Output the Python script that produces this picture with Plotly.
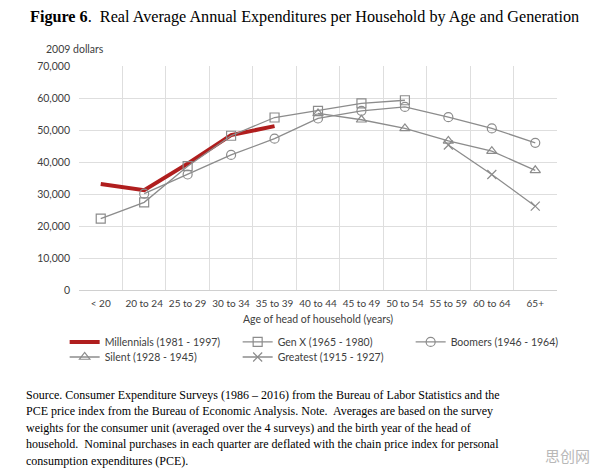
import plotly.graph_objects as go

ages = ["< 20", "20 to 24", "25 to 29", "30 to 34", "35 to 39", "40 to 44",
        "45 to 49", "50 to 54", "55 to 59", "60 to 64", "65+"]

# 2009 dollars
millennials = [33100, 31200, 39500, 48400, 51200]
gen_x = [22300, 27400, 38700, 48200, 53900, 56000, 58300, 59300]
boomers = [30100, 36100, 42200, 47300, 53600, 56000, 57200, 54000, 50500, 46000]
silent = [55200, 53200, 50500, 46600, 43400, 37400]
greatest = [45300, 36100, 26200]

caption_lines = [
    "Source. Consumer Expenditure Surveys (1986 \u2013 2016) from the Bureau of Labor Statistics and the",
    "PCE price index from the Bureau of Economic Analysis. Note.  Averages are based on the survey",
    "weights for the consumer unit (averaged over the 4 surveys) and the birth year of the head of",
    "household.  Nominal purchases in each quarter are deflated with the chain price index for personal",
    "consumption expenditures (PCE).",
]

grey = "#8c8c8c"
txt = "#404040"
font_ax = "Lato, Open Sans, sans-serif"

fig = go.Figure()

fig.add_trace(go.Scatter(
    x=ages[:5], y=millennials, name="Millennials (1981 - 1997)", legend="legend",
    mode="lines", line=dict(color="#b01e1e", width=4)))
fig.add_trace(go.Scatter(
    x=ages[:8], y=gen_x, name="Gen X (1965 - 1980)", legend="legend",
    mode="lines+markers", line=dict(color=grey, width=1.3),
    marker=dict(symbol="square-open", size=9, color=grey, line=dict(width=1.2))))
fig.add_trace(go.Scatter(
    x=ages[1:], y=boomers, name="Boomers (1946 - 1964)", legend="legend",
    mode="lines+markers", line=dict(color=grey, width=1.3),
    marker=dict(symbol="circle-open", size=9, color=grey, line=dict(width=1.2))))
fig.add_trace(go.Scatter(
    x=ages[5:], y=silent, name="Silent (1928 - 1945)", legend="legend2",
    mode="lines+markers", line=dict(color=grey, width=1.3),
    marker=dict(symbol="triangle-up-open", size=9, color=grey, line=dict(width=1.2))))
fig.add_trace(go.Scatter(
    x=ages[8:], y=greatest, name="Greatest (1915 - 1927)", legend="legend2",
    mode="lines+markers", line=dict(color=grey, width=1.3),
    marker=dict(symbol="x-thin-open", size=9, color=grey, line=dict(width=1.2))))

fig.update_xaxes(
    type="category", categoryorder="array", categoryarray=ages,
    range=[-0.5, 10.5], tickson="boundaries", ticks="", tickangle=0,
    showgrid=True, gridcolor="#dedede", gridwidth=1, automargin=False,
    showline=True, linecolor="#d0d0d0", zeroline=False, ticklabelstandoff=4,
    tickfont=dict(family=font_ax, size=10, color=txt),
    title=dict(text="Age of head of household (years)", standoff=7,
               font=dict(family=font_ax, size=10.5, color=txt)))
fig.update_yaxes(
    range=[0, 70000], dtick=10000, tickformat=",d", automargin=False,
    showgrid=True, gridcolor="#dedede", gridwidth=1, zeroline=False,
    ticks="", ticklabelstandoff=8,
    tickfont=dict(family=font_ax, size=10.5, color=txt))

annotations = [
    dict(text="<b>Figure 6</b>.  Real Average Annual Expenditures per Household by Age and Generation",
         xref="paper", yref="paper", x=-0.107, y=1.219, xanchor="left", yanchor="middle",
         showarrow=False, font=dict(family="Liberation Serif", size=16.2, color="black")),
    dict(text="2009 dollars", xref="paper", yref="paper", x=0, y=1.0,
         xanchor="left", yanchor="bottom", xshift=-35, yshift=9,
         showarrow=False, font=dict(family=font_ax, size=10.5, color=txt)),
    dict(text="思创网", xref="paper", yref="paper", x=1.0, y=-0.74,
         xanchor="left", yanchor="middle", xshift=-14,
         showarrow=False, font=dict(family="Noto Sans CJK SC", size=15, color="#b8b8b8")),
]
for i, line in enumerate(caption_lines):
    annotations.append(dict(
        text=line, xref="paper", yref="paper", x=0, y=-0.467 - i * 0.0737,
        xanchor="left", yanchor="middle", xshift=-55, align="left",
        showarrow=False, font=dict(family="Liberation Serif", size=12, color="black")))

legend_style = dict(orientation="h", xanchor="left", yanchor="middle",
                    entrywidth=128, entrywidthmode="pixels", itemwidth=30,
                    tracegroupgap=0, bgcolor="rgba(0,0,0,0)",
                    font=dict(family=font_ax, size=10.5, color=txt))

fig.update_layout(
    width=596, height=475,
    margin=dict(l=79, r=39, t=66, b=185),
    plot_bgcolor="white", paper_bgcolor="white",
    showlegend=True,
    legend=dict(x=-0.03, y=-0.232, **legend_style),
    legend2=dict(x=-0.03, y=-0.299, **legend_style),
    annotations=annotations,
)

fig.write_html("out.html", config={"displayModeBar": False},
               post_script="document.body.style.margin='0';")
